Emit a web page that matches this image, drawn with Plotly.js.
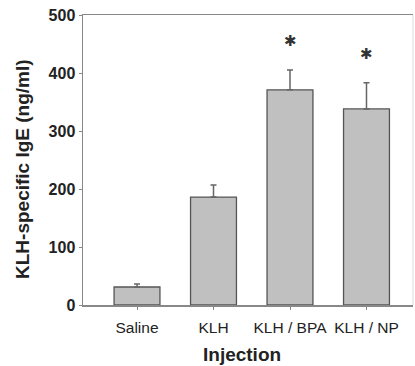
<!DOCTYPE html>
<html>
<head>
<meta charset="utf-8">
<script src="https://cdn.plot.ly/plotly-3.0.1.min.js"></script>
<style>html,body{margin:0;padding:0;background:#fff;}#chart{width:415px;height:366px;}</style>
</head>
<body>
<div id="chart"></div>
<script>
const categories = ['Saline', 'KLH', 'KLH / BPA', 'KLH / NP'];
const igeValues = [31, 186, 371, 338];
const igeErrors = [5, 21, 34, 45];
const significance = ['', '', '✱', '✱'];
const yTickValues = [0, 100, 200, 300, 400, 500];
const xTitle = 'Injection';
const yTitle = 'KLH-specific IgE (ng/ml)';

const xIdx = categories.map((_, i) => i);
const FONT = 'Liberation Sans, Arial, sans-serif';

const trace = {
  type: 'bar',
  x: xIdx,
  y: igeValues,
  width: 0.6,
  marker: { color: '#c0c0c0', line: { color: '#555', width: 1.3 } },
  error_y: {
    type: 'data', symmetric: false,
    array: igeErrors, arrayminus: igeErrors.map(() => 0),
    color: '#666', thickness: 1.5, width: 3
  },
  hoverinfo: 'none'
};

const annotations = significance.map((s, i) => s ? {
  x: i, y: igeValues[i] + igeErrors[i], xref: 'x', yref: 'y',
  text: s, showarrow: false, yanchor: 'middle', yshift: 29,
  font: { family: 'DejaVu Sans, sans-serif', size: 15, color: '#333' }
} : null).filter(a => a);

annotations.push({
  xref: 'paper', yref: 'paper', x: 0.482, y: -0.172,
  xanchor: 'center', yanchor: 'middle', showarrow: false,
  text: '<b>' + xTitle + '</b>',
  font: { family: FONT, size: 19, color: '#222' }
});
annotations.push({
  xref: 'paper', yref: 'paper', x: 0, xshift: -60, y: 0.469,
  xanchor: 'center', yanchor: 'middle', showarrow: false, textangle: -90,
  text: '<b>' + yTitle + '</b>',
  font: { family: FONT, size: 19, color: '#222' }
});

const layout = {
  width: 415, height: 366,
  margin: { l: 83, r: 2, t: 15, b: 61 },
  paper_bgcolor: '#fff', plot_bgcolor: '#fff',
  showlegend: false,
  xaxis: {
    range: [-0.706, 3.608],
    tickvals: xIdx, ticktext: categories,
    ticks: 'outside', ticklen: 3, tickcolor: '#888', tickwidth: 1,
    showline: true, linecolor: '#888', linewidth: 1.5, mirror: true,
    showgrid: false, zeroline: false,
    ticklabelstandoff: 5,
    tickfont: { family: FONT, size: 15.5, color: '#222' }
  },
  yaxis: {
    range: [0, 500],
    tickvals: yTickValues,
    ticks: 'outside', ticklen: 3, tickcolor: '#888', tickwidth: 1,
    showline: true, linecolor: '#888', linewidth: 1.5,
    showgrid: false, zeroline: false,
    tickfont: { family: FONT, size: 16, color: '#222', weight: 'bold' }
  },
  shapes: [{
    type: 'line', xref: 'paper', yref: 'paper', x0: 1, x1: 1, y0: 0, y1: 1,
    line: { color: '#ddd', width: 1 }
  }],
  annotations: annotations
};

Plotly.newPlot('chart', [trace], layout, { staticPlot: true, displayModeBar: false });
</script>
</body>
</html>
